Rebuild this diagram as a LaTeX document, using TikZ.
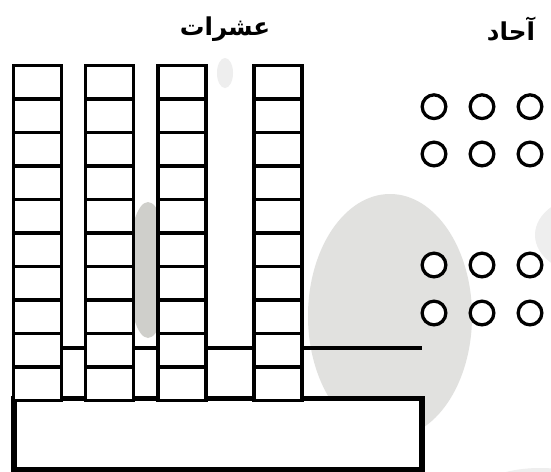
\documentclass[tikz,border=0pt]{standalone}
\usepackage{fontspec}
\usepackage{tikz}
\usetikzlibrary{positioning}
\newfontfamily\arabicfont[Script=Arabic]{DejaVu Sans}
\TeXXeTstate=1
\definecolor{blob-gray}{HTML}{E1E1DF}
\definecolor{blob-dark}{HTML}{CFCFCB}
\definecolor{blob-light}{HTML}{EEEEEE}

\begin{document}
\begin{tikzpicture}[x=0.03cm, y=-0.03cm,
    unit/.style={draw, fill=white, line width=3pt, minimum width=1.44cm, minimum height=1.005cm, inner sep=0pt},
    base/.style={draw, fill=white, line width=4.3pt, minimum width=12.24cm, minimum height=2.13cm, inner sep=0pt},
    one/.style={draw, fill=white, circle, line width=2.8pt, minimum size=0.71cm, inner sep=0pt},
    title/.style={font=\arabicfont\bfseries\fontsize{21}{24}\selectfont, inner sep=0pt},
    bar/.style={line width=3pt}
]
    \clip (0,0) rectangle (551,472);
    \fill[white] (0,0) rectangle (551,472);

    % faint shapes in the background
    \fill[blob-gray] (390,316) ellipse [x radius=82, y radius=122];
    \fill[blob-dark] (148,270) ellipse [x radius=20, y radius=68];
    \fill[blob-light] (225,73) ellipse [x radius=8, y radius=15];
    \fill[blob-light] (592,235) ellipse [x radius=57, y radius=40];
    \fill[blob-light] (540,500) ellipse [x radius=70, y radius=32];

    \node (tens) [title] at (225,29) {\beginR عشرات\endR};
    \node (ones) [title] at (511,29) {\beginR آحاد\endR};

    \coordinate (linestart) at (61,348);
    \coordinate (lineend) at (422,348);
    \draw [bar] (linestart) -- (lineend);

    \node (base) [base] at (218,434) {};

    \foreach \cx [count=\c] in {37.5, 109.5, 182, 278} {
        \foreach \r in {1,...,10} {
            \node (cell\c-\r) [unit] at (\cx, {65.5+33.5*(\r-0.5)}) {};
        }
    }

    \foreach \ux [count=\i] in {434, 482, 530} {
        \foreach \uy [count=\j] in {106.7, 154, 265, 313} {
            \node (unit\i-\j) [one] at (\ux,\uy) {};
        }
    }
\end{tikzpicture}
\end{document}
